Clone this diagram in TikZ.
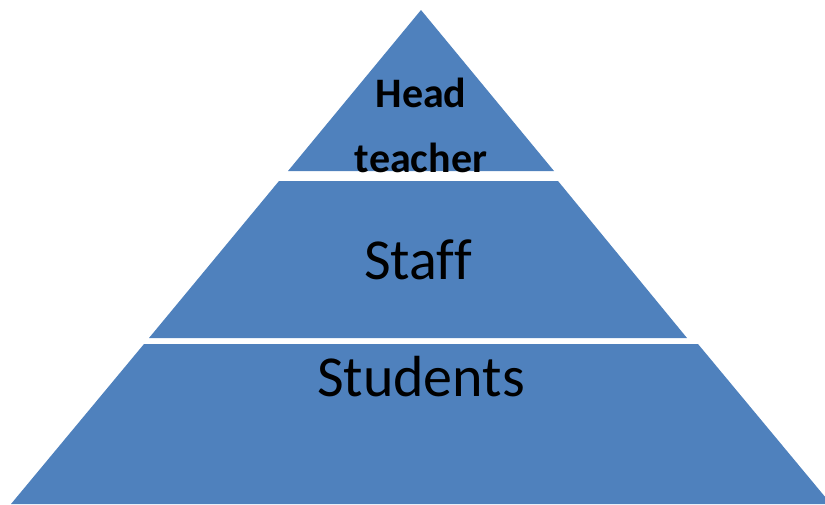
\documentclass[tikz,border=0pt]{standalone}
\usepackage{fontspec}
\setmainfont[Ligatures=NoCommon]{Carlito}
\definecolor{tierblue}{HTML}{4F81BD}
\begin{document}
\begin{tikzpicture}[x=1pt,y=-1pt,
  tier/.style={fill=tierblue,draw=none},
  bigtxt/.style={anchor=base,inner sep=0pt,font=\fontsize{58}{68}\selectfont},
  headtxt/.style={anchor=base,inner sep=0pt,font=\bfseries\fontsize{42}{50}\selectfont}]
\useasboundingbox (0,0) rectangle (825,504);
\begin{scope}
\clip (0,0) rectangle (825,504);
\fill[tier] (421,10) -- (554,171) -- (288,171) -- cycle;
\fill[tier] (279,181) -- (558,181) -- (687,338) -- (149,338) -- cycle;
\fill[tier] (144,344) -- (698,344) -- (831,504) -- (11,504) -- cycle;
\end{scope}
\node[headtxt] (head) at (421,107) {Head};
\node[headtxt] (teacher) at (421,172) {teacher};
\node[bigtxt] (staff) at (418,279) {Staff};
\node[bigtxt] (students) at (421,396) {Students};
\end{tikzpicture}
\end{document}
